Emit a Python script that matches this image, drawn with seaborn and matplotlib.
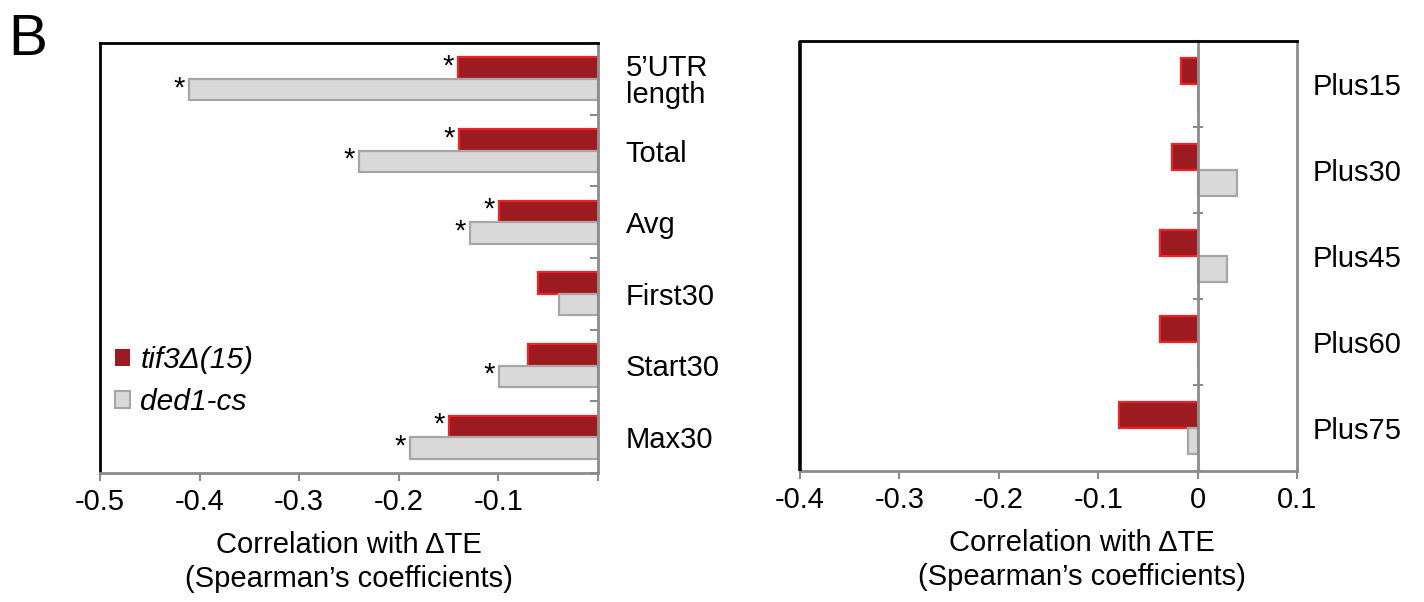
import numpy as np
import pandas as pd
import matplotlib
matplotlib.use("Agg")
import matplotlib.pyplot as plt
import seaborn as sns
from matplotlib.patches import Patch

# ---------------- data ----------------
left_features = ["5\u2019UTR\nlength", "Total", "Avg", "First30", "Start30", "Max30"]
left_tif3 = [-0.141, -0.140, -0.099, -0.060, -0.070, -0.150]
left_ded1 = [-0.411, -0.240, -0.129, -0.039, -0.099, -0.189]
left_sig_tif3 = [1, 1, 1, 0, 0, 1]
left_sig_ded1 = [1, 1, 1, 0, 1, 1]

right_features = ["Plus15", "Plus30", "Plus45", "Plus60", "Plus75"]
right_tif3 = [-0.017, -0.026, -0.038, -0.038, -0.079]
right_ded1 = [0.0, 0.040, 0.030, 0.0, -0.010]

strains = ["tif3\u0394(15)", "ded1-cs"]
left_xticks = [-0.5, -0.4, -0.3, -0.2, -0.1, 0.0]
left_xticklabels = ["-0.5", "-0.4", "-0.3", "-0.2", "-0.1", ""]
right_xticks = [-0.4, -0.3, -0.2, -0.1, 0.0, 0.1]
right_xticklabels = ["-0.4", "-0.3", "-0.2", "-0.1", "0", "0.1"]
xlabel_text = "Correlation with \u0394TE\n(Spearman\u2019s coefficients)"

# ---------------- style ----------------
sns.set_style("white")
plt.rcParams["font.family"] = ["Liberation Sans", "DejaVu Sans"]
plt.rcParams["text.color"] = "black"
plt.rcParams["axes.labelcolor"] = "black"
FS = 21
RED_FILL, RED_EDGE = "#9C1B20", "#EE2227"
GRAY_FILL, GRAY_EDGE = "#D9D9D9", "#A6A6A6"
SPINE_GRAY = "#8C8C8C"

fig = plt.figure(figsize=(14.24, 6.02), dpi=100)
W, H = 1424, 602
axL = fig.add_axes([100 / W, 1 - 473 / H, 498 / W, 430 / H])
axR = fig.add_axes([800 / W, 1 - 471 / H, 497 / W, 430 / H])


def make_df(features, a, b):
    return pd.DataFrame({
        "feature": list(features) * 2,
        "value": list(a) + list(b),
        "strain": [strains[0]] * len(features) + [strains[1]] * len(features),
    })


def draw(ax, features, a, b):
    df = make_df(features, a, b)
    sns.barplot(data=df, x="value", y="feature", hue="strain", orient="h",
                order=features, hue_order=strains,
                palette=[RED_FILL, GRAY_FILL], width=0.6, ax=ax,
                legend=False, errorbar=None, saturation=1)
    edges = [RED_EDGE, GRAY_EDGE]
    for cont, ec in zip(ax.containers, edges):
        for p in cont:
            p.set_edgecolor(ec)
            p.set_linewidth(1.6)
    ax.set_ylabel("")
    ax.set_xlabel(xlabel_text, fontsize=FS, linespacing=1.25)
    n = len(features)
    ax.set_ylim(n - 0.5, -0.5)
    ax.set_yticks(np.arange(-0.5, n, 1), minor=True)
    for s in ["top", "left"]:
        ax.spines[s].set_color("black")
        ax.spines[s].set_linewidth(2)
    for s in ["bottom", "right"]:
        ax.spines[s].set_color(SPINE_GRAY)
        ax.spines[s].set_linewidth(2)
    ax.tick_params(axis="x", which="major", direction="out", length=6, width=1.5,
                   color=SPINE_GRAY, labelcolor="black", labelsize=FS, pad=5,
                   bottom=True)
    ax.xaxis.label.set_va("center")
    return ax


# ---------------- left panel ----------------
draw(axL, left_features, left_tif3, left_ded1)
axL.set_xlim(-0.5, 0.0)
axL.set_xticks(left_xticks)
axL.set_xticklabels(left_xticklabels)
axL.tick_params(axis="y", which="major", left=False, right=True, labelleft=False,
                labelright=True, length=0, labelsize=FS, labelcolor="black", pad=20)
axL.tick_params(axis="y", which="minor", left=False, right=True, direction="in",
                length=6, width=1.5, color=SPINE_GRAY)
for lab in axL.get_yticklabels():
    lab.set_ha("left")
    lab.set_linespacing(0.95)
axL.xaxis.set_label_coords(0.5, -0.207)

# significance stars
for cont, sig in zip(axL.containers, [left_sig_tif3, left_sig_ded1]):
    for p, s in zip(cont, sig):
        if s:
            xend = min(p.get_x(), p.get_x() + p.get_width())
            axL.annotate("*", xy=(xend, p.get_y() + p.get_height() / 2),
                         xytext=(-3, 1), textcoords="offset points",
                         ha="right", va="center", fontsize=FS)

handles = [Patch(facecolor=RED_FILL, edgecolor=RED_FILL, linewidth=0),
           Patch(facecolor=GRAY_FILL, edgecolor=GRAY_EDGE, linewidth=1.5)]
leg = axL.legend(handles, strains, loc="center left", bbox_to_anchor=(0.03, 0.214),
                 frameon=False, fontsize=FS + 0.5, handlelength=0.5, handleheight=0.5,
                 handletextpad=0.35, labelspacing=0.45, borderaxespad=0, borderpad=0)
for t in leg.get_texts():
    t.set_style("italic")

# ---------------- right panel ----------------
draw(axR, right_features, right_tif3, right_ded1)
axR.set_xlim(-0.4, 0.1)
axR.set_xticks(right_xticks)
axR.set_xticklabels(right_xticklabels)
axR.spines["left"].set_position(("data", 0.0))
axR.spines["left"].set_color(SPINE_GRAY)
axR.plot([0, 0], [0, 1], transform=axR.transAxes, color="black", lw=2.6,
         clip_on=False, zorder=5, solid_capstyle="butt")
axR.tick_params(axis="y", which="major", left=False, right=True, labelleft=False,
                labelright=True, length=0, labelsize=FS, labelcolor="black", pad=11)
axR.tick_params(axis="y", which="minor", left=True, right=False, direction="inout",
                length=7, width=1.5, color=SPINE_GRAY)
axR.xaxis.set_label_coords(0.567, -0.207)

# panel letter
fig.text(8 / W, 1 - 40 / H, "B", fontsize=42, va="center", ha="left")

fig.savefig("out.png", dpi=100)
